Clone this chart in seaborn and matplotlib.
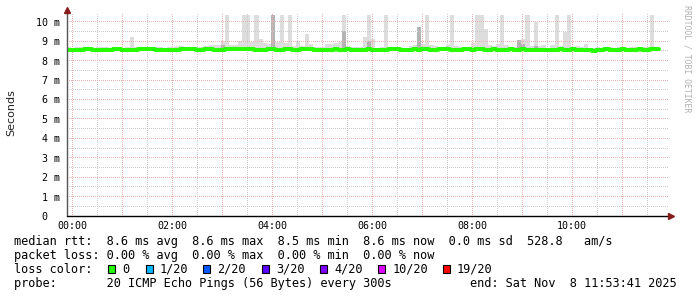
import numpy as np
import pandas as pd
import matplotlib
matplotlib.use("Agg")
import matplotlib.pyplot as plt
from matplotlib.patches import Rectangle
from matplotlib.ticker import FixedLocator
import seaborn as sns

# ---------------- data (5-minute steps, values in ms) ----------------
start_hour = -0.1          # first step begins at 23:54
step_hours = 5 / 60

median_ms = [
    8.55, 8.55, 8.56, 8.56, 8.58, 8.60, 8.57, 8.55, 8.53, 8.55,
    8.57, 8.58, 8.58, 8.57, 8.55, 8.54, 8.56, 8.58, 8.60, 8.60,
    8.59, 8.57, 8.55, 8.55, 8.53, 8.55, 8.57, 8.58, 8.58, 8.60,
    8.58, 8.57, 8.56, 8.58, 8.59, 8.57, 8.55, 8.57, 8.58, 8.60,
    8.59, 8.58, 8.60, 8.61, 8.58, 8.56, 8.55, 8.57, 8.59, 8.58,
    8.56, 8.57, 8.58, 8.60, 8.57, 8.56, 8.58, 8.59, 8.60, 8.57,
    8.55, 8.53, 8.55, 8.56, 8.58, 8.57, 8.57, 8.59, 8.56, 8.55,
    8.55, 8.57, 8.58, 8.56, 8.55, 8.54, 8.57, 8.58, 8.59, 8.58,
    8.57, 8.55, 8.56, 8.58, 8.57, 8.59, 8.58, 8.56, 8.57, 8.58,
    8.60, 8.58, 8.57, 8.55, 8.56, 8.58, 8.59, 8.57, 8.58, 8.59,
    8.57, 8.56, 8.58, 8.57, 8.55, 8.57, 8.58, 8.56, 8.57, 8.58,
    8.57, 8.56, 8.55, 8.57, 8.56, 8.53, 8.55, 8.57, 8.58, 8.56,
    8.56, 8.58, 8.57, 8.55, 8.56, 8.53, 8.52, 8.55, 8.57, 8.58,
    8.56, 8.55, 8.57, 8.58, 8.56, 8.55, 8.57, 8.58, 8.57, 8.56,
    8.60, 8.60,
]

smoke_max_ms = [
    8.68, 8.66, 8.70, 8.68, 8.72, 8.70, 8.66, 8.72, 8.70, 8.68,
    8.66, 8.70, 8.68, 8.66, 8.70, 9.20, 8.68, 8.66, 8.70, 8.68,
    8.66, 8.68, 8.70, 8.66, 8.68, 8.70, 8.74, 8.75, 8.72, 8.70,
    8.68, 8.70, 8.72, 8.76, 8.78, 8.80, 8.82, 9.00, 10.33, 8.80,
    8.80, 9.00, 10.33, 10.33, 8.95, 10.33, 9.10, 8.90, 8.85, 10.33,
    8.95, 10.33, 8.90, 10.33, 8.75, 9.00, 8.75, 9.35, 8.87, 8.70,
    8.70, 8.72, 8.88, 8.86, 8.90, 8.95, 10.33, 8.75, 8.70, 8.68,
    8.70, 9.20, 10.33, 9.10, 8.65, 8.70, 10.33, 8.70, 8.65, 8.70,
    8.65, 8.66, 8.75, 8.80, 9.75, 8.85, 10.33, 8.80, 8.75, 8.65,
    8.70, 8.80, 10.33, 8.75, 8.70, 8.65, 8.70, 8.90, 10.33, 10.33,
    9.62, 8.80, 8.75, 8.85, 10.33, 8.80, 8.70, 8.70, 9.07, 9.10,
    10.33, 8.75, 10.00, 8.75, 8.80, 8.65, 8.80, 10.33, 8.75, 9.45,
    10.33, 8.70, 8.75, 8.70, 8.87, 8.66, 8.65, 8.68, 8.66, 8.70,
    8.68, 8.66, 8.70, 8.68, 8.66, 8.70, 8.72, 8.68, 8.70, 8.72,
    10.33, 8.65,
]

smoke_mid_ms = [
    8.62, 8.62, 8.63, 8.62, 8.63, 8.64, 8.62, 8.62, 8.61, 8.62,
    8.62, 8.63, 8.63, 8.62, 8.62, 8.62, 8.62, 8.63, 8.64, 8.64,
    8.63, 8.62, 8.62, 8.62, 8.61, 8.62, 8.62, 8.63, 8.63, 8.64,
    8.63, 8.62, 8.62, 8.63, 8.63, 8.62, 8.62, 8.80, 8.70, 8.64,
    8.63, 8.63, 8.70, 8.66, 8.63, 8.62, 8.62, 8.62, 8.63, 10.33,
    8.62, 8.64, 8.63, 8.66, 8.62, 8.62, 8.63, 8.72, 8.64, 8.62,
    8.62, 8.61, 8.62, 8.62, 8.63, 8.62, 9.50, 8.63, 8.62, 8.62,
    8.62, 8.62, 9.00, 8.62, 8.62, 8.61, 8.63, 8.62, 8.63, 8.63,
    8.62, 8.62, 8.62, 8.63, 9.75, 8.63, 8.63, 8.62, 8.62, 8.63,
    8.64, 8.63, 8.64, 8.62, 8.62, 8.63, 8.63, 8.62, 8.70, 8.64,
    8.62, 8.62, 8.63, 8.62, 8.62, 8.62, 8.63, 8.62, 9.05, 8.85,
    8.64, 8.62, 8.75, 8.62, 8.62, 8.60, 8.62, 8.63, 8.62, 8.62,
    8.62, 8.63, 8.62, 8.62, 8.62, 8.60, 8.58, 8.62, 8.62, 8.63,
    8.62, 8.62, 8.62, 8.63, 8.62, 8.62, 8.62, 8.63, 8.62, 8.62,
    8.64, 8.63,
]

smoke_min_ms = [
    8.50, 8.50, 8.51, 8.50, 8.52, 8.53, 8.50, 8.49, 8.47, 8.50,
    8.51, 8.52, 8.52, 8.50, 8.49, 8.48, 8.50, 8.52, 8.53, 8.53,
    8.52, 8.50, 8.49, 8.49, 8.47, 8.49, 8.50, 8.52, 8.52, 8.53,
    8.52, 8.50, 8.50, 8.51, 8.52, 8.50, 8.49, 8.50, 8.51, 8.53,
    8.52, 8.51, 8.53, 8.54, 8.51, 8.49, 8.48, 8.50, 8.52, 8.51,
    8.49, 8.50, 8.51, 8.53, 8.50, 8.49, 8.51, 8.52, 8.53, 8.50,
    8.48, 8.46, 8.48, 8.49, 8.51, 8.50, 8.50, 8.52, 8.49, 8.48,
    8.48, 8.50, 8.51, 8.49, 8.48, 8.47, 8.50, 8.51, 8.52, 8.51,
    8.50, 8.48, 8.49, 8.51, 8.50, 8.52, 8.51, 8.49, 8.50, 8.51,
    8.53, 8.51, 8.50, 8.48, 8.49, 8.51, 8.52, 8.50, 8.51, 8.52,
    8.50, 8.49, 8.51, 8.50, 8.48, 8.50, 8.51, 8.49, 8.50, 8.51,
    8.50, 8.49, 8.48, 8.50, 8.49, 8.42, 8.48, 8.50, 8.51, 8.49,
    8.49, 8.51, 8.50, 8.48, 8.49, 8.45, 8.44, 8.48, 8.50, 8.51,
    8.49, 8.48, 8.50, 8.51, 8.49, 8.48, 8.50, 8.51, 8.50, 8.49,
    8.53, 8.53,
]

hour_tick_labels = ["00:00", "02:00", "04:00", "06:00", "08:00", "10:00"]
hour_tick_values = [0, 2, 4, 6, 8, 10]
y_tick_values = [0, 1, 2, 3, 4, 5, 6, 7, 8, 9, 10]
y_tick_labels = ["0  ", "1 m", "2 m", "3 m", "4 m", "5 m", "6 m", "7 m", "8 m", "9 m", "10 m"]

legend_rows = [
    "median rtt:  8.6 ms avg  8.6 ms max  8.5 ms min  8.6 ms now  0.0 ms sd  528.8   am/s",
    "packet loss: 0.00 % avg  0.00 % max  0.00 % min  0.00 % now",
    "loss color:",
    "probe:       20 ICMP Echo Pings (56 Bytes) every 300s           end: Sat Nov  8 11:53:41 2025",
]
loss_labels = ["0", "1/20", "2/20", "3/20", "4/20", "10/20", "19/20"]
loss_colors = ["#26ff00", "#00b8ff", "#0059ff", "#5e00ff", "#7e00ff", "#dd00ff", "#ff0000"]

# ---------------- build frame ----------------
n = len(median_ms)
t = start_hour + step_hours * np.arange(n + 1)
def ext(a):
    a = list(a)
    return np.array(a + [a[-1]])

df = pd.DataFrame({"t": t, "median": ext(median_ms), "max": ext(smoke_max_ms),
                   "mid": ext(smoke_mid_ms), "min": ext(smoke_min_ms)})

# ---------------- figure ----------------
sns.set_style("white")
W, H = 697, 297
fig = plt.figure(figsize=(W / 100, H / 100), dpi=100)
fig.patch.set_facecolor("white")

# axes in whole pixels: left 67, width 602, top 14, height 202
AX_L, AX_W, AX_T, AX_H = 67, 602, 14, 202
rect = [AX_L / W, 1 - (AX_T + AX_H) / H, AX_W / W, AX_H / H]
XMIN, XMAX = -0.1, 11.94
YMIN, YMAX = 0.0, 10.4

# bottom axes: smoke
ax = fig.add_axes(rect, zorder=0)
ax.set_facecolor("white")
ax.fill_between(df["t"], df["min"], df["max"], step="post", color="#dddddd", lw=0, zorder=1)
ax.fill_between(df["t"], df["min"], df["mid"], step="post", color="#b4b4b4", lw=0, zorder=1.1)
ax.set_xlim(XMIN, XMAX)
ax.set_ylim(YMIN, YMAX)
ax.set_axis_off()

# pixel-exact dotted grid (figure image, above smoke, below median)
grid = np.zeros((AX_H, AX_W, 4))
minor_c = np.array([205, 205, 205, 255]) / 255
major_c = np.array([236, 178, 178, 255]) / 255
def col_of(x):
    return int(np.floor((x - XMIN) / (XMAX - XMIN) * AX_W))
def row_of(y):
    return int(np.floor((YMAX - y) / (YMAX - YMIN) * AX_H))
for h in np.arange(0.5, 12, 1.0):
    c = col_of(h)
    if 0 <= c < AX_W:
        grid[0::2, c] = minor_c
for v in np.arange(0.5, 10.5, 1.0):
    grid[row_of(v), 0::2] = minor_c
for h in np.arange(0, 12, 1.0):
    c = col_of(h)
    if 0 <= c < AX_W:
        grid[0::2, c] = major_c
for v in np.arange(1, 11, 1.0):
    grid[row_of(v), 0::2] = major_c
fig.figimage(grid, xo=AX_L, yo=H - AX_T - AX_H, origin="upper", zorder=0.5)

# top axes: median line, axes, labels
ax2 = fig.add_axes(rect, zorder=1)
ax2.set_facecolor("none")
ax2.set_xlim(XMIN, XMAX)
ax2.set_ylim(YMIN, YMAX)
sns.lineplot(data=df, x="t", y="median", ax=ax2, color="#26ff00", lw=2.9,
             drawstyle="steps-post", zorder=4, legend=False)

for s in ax2.spines.values():
    s.set_visible(False)
ax2.plot([-0.1, -0.1], [0, 10.65], color="#555555", lw=1.0, clip_on=False, zorder=5)
ax2.plot([-0.1, 11.95], [0, 0], color="#000000", lw=1.0, clip_on=False, zorder=5)
ax2.plot([-0.1], [10.6], marker="^", ms=4.5, color="#861c1c", clip_on=False, zorder=6)
ax2.plot([11.98], [0], marker=">", ms=4.5, color="#861c1c", clip_on=False, zorder=6)

mono = "DejaVu Sans Mono"
ax2.xaxis.set_major_locator(FixedLocator(hour_tick_values))
ax2.set_xticklabels(hour_tick_labels, fontfamily=mono, fontsize=7.2)
ax2.yaxis.set_major_locator(FixedLocator(y_tick_values))
ax2.set_yticklabels(y_tick_labels, fontfamily=mono, fontsize=7.2)
ax2.tick_params(axis="both", length=0, colors="#000000")
ax2.tick_params(axis="y", pad=5)
ax2.tick_params(axis="x", pad=3.5)
ax2.set_xlabel("")
ax2.set_ylabel("")

# y label
fig.text(11 / W, 1 - 113 / H, "Seconds", rotation=90, ha="center", va="center",
         fontsize=8, fontfamily="DejaVu Sans", color="#222222")

# watermark
fig.text(687 / W, 1 - 59 / H, "RRDTOOL / TOBI OETIKER", rotation=270, ha="center", va="center",
         fontsize=5.9, fontfamily=mono, color="#b0b0b0")

# legend text
baselines = [245.5, 259.2, 273.0, 286.7]
fs = 8.55
for row, yb in zip(legend_rows, baselines):
    fig.text(14.5 / W, 1 - yb / H, row, ha="left", va="baseline", fontsize=fs,
             fontfamily=mono, color="#000000")

box_x = [108.3, 145.7, 203.0, 261.7, 320.0, 378.0, 442.7]
for bx, lab, col in zip(box_x, loss_labels, loss_colors):
    fig.patches.append(Rectangle((bx / W, 1 - 273.0 / H), 7 / W, 8 / H,
                                 transform=fig.transFigure, facecolor=col,
                                 edgecolor="#000000", lw=0.8))
    fig.text((bx + 14.2) / W, 1 - baselines[2] / H, lab, ha="left", va="baseline",
             fontsize=fs, fontfamily=mono, color="#000000")

fig.savefig("out.png", dpi=100, facecolor="white")
